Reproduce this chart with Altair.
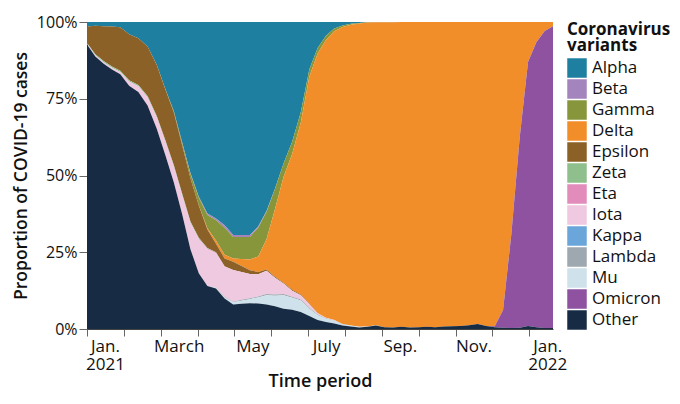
import json
import calendar

import altair as alt
import pandas as pd

# weekly reporting periods, Jan. 1 2021 through Jan. 21 2022
weeks = pd.date_range("2021-01-01", periods=56, freq="7D")

variants = ["Alpha", "Beta", "Gamma", "Delta", "Epsilon", "Zeta", "Eta",
            "Iota", "Kappa", "Lambda", "Mu", "Omicron", "Other"]
colors = ["#1f7fa0", "#a484bc", "#87963b", "#f28e2a", "#8c6127", "#8fbf8c",
          "#e28cbb", "#eec9e0", "#6aa6da", "#9ea8b0", "#cfe1eb", "#8e52a0",
          "#172c44"]

# share of sequenced cases per week (%)
alpha = [1.5, 1.2, 1.4, 1.5, 1.7, 4.0, 5.3, 8.0, 13.9, 21.9,
         29.0, 39.2, 49.2, 56.9, 62.4, 64.0, 66.2, 69.4, 69.4, 69.4,
         66.6, 61.6, 54.3, 46.1, 39.0, 29.5, 15.5, 8.5, 4.5, 2.1,
         1.1, 0.6, 0.3, 0.1, 0.1, 0.1, 0.1, 0, 0, 0,
         0, 0, 0, 0, 0, 0, 0, 0, 0, 0,
         0, 0, 0, 0, 0, 0]
beta = [0, 0, 0, 0, 0, 0, 0, 0, 0, 0,
        0, 0.1, 0.2, 0.3, 0.5, 0.6, 0.8, 0.6, 0.6, 0.6,
        0.4, 0.2, 0.1, 0, 0, 0, 0, 0, 0, 0,
        0, 0, 0, 0, 0, 0, 0, 0, 0, 0,
        0, 0, 0, 0, 0, 0, 0, 0, 0, 0,
        0, 0, 0, 0, 0, 0]
gamma = [0, 0, 0, 0, 0, 0, 0, 0, 0.1, 0.2,
         0.4, 0.8, 1.5, 2.5, 4.3, 6.6, 8.8, 7.0, 7.2, 7.4,
         9.4, 9.0, 6.6, 4.4, 4.0, 3.3, 2.3, 1.8, 1.4, 0.9,
         0.5, 0.3, 0.2, 0.1, 0, 0, 0, 0, 0, 0,
         0, 0, 0, 0, 0, 0, 0, 0, 0, 0,
         0, 0, 0, 0, 0, 0]
delta = [0, 0, 0, 0, 0, 0, 0, 0, 0, 0,
         0, 0, 0, 0.1, 0.4, 1.0, 1.2, 1.1, 2.3, 3.5,
         5.0, 9.8, 22.0, 34.4, 44.2, 56.0, 74.0, 84.6, 90.4, 94.1,
         96.8, 98.0, 98.8, 99.0, 98.7, 99.3, 99.4, 99.3, 99.5, 99.4,
         99.3, 99.4, 99.2, 99.1, 99.0, 98.8, 98.4, 99.0, 99.1, 93.8,
         69.0, 37.6, 13.0, 6.6, 2.9, 1.4]
epsilon = [5.3, 9.3, 11.3, 13.0, 14.2, 15.0, 15.2, 16.1, 16.6, 16.5,
           17.2, 15.8, 14.1, 10.5, 6.0, 2.8, 2.6, 2.7, 1.9, 1.2,
           0.8, 0.4, 0.3, 0.3, 0.3, 0.2, 0.1, 0, 0, 0,
           0, 0, 0, 0, 0, 0, 0, 0, 0, 0,
           0, 0, 0, 0, 0, 0, 0, 0, 0, 0,
           0, 0, 0, 0, 0, 0]
zeta = [0.2, 0.3, 0.4, 0.4, 0.4, 0.4, 0.4, 0.4, 0.4, 0.4,
        0.4, 0.4, 0.3, 0.3, 0.2, 0.1, 0, 0, 0, 0,
        0, 0, 0, 0, 0, 0, 0, 0, 0, 0,
        0, 0, 0, 0, 0, 0, 0, 0, 0, 0,
        0, 0, 0, 0, 0, 0, 0, 0, 0, 0,
        0, 0, 0, 0, 0, 0]
eta = [0, 0, 0, 0, 0, 0, 0, 0.1, 0.2, 0.2,
       0.2, 0.2, 0.2, 0.2, 0.2, 0.2, 0.1, 0, 0, 0,
       0, 0, 0, 0, 0, 0, 0, 0, 0, 0,
       0, 0, 0, 0, 0, 0, 0, 0, 0, 0,
       0, 0, 0, 0, 0, 0, 0, 0, 0, 0,
       0, 0, 0, 0, 0, 0]
iota = [0.3, 0.4, 0.5, 0.6, 0.7, 1.4, 1.9, 2.6, 3.6, 4.3,
        5.0, 6.0, 8.5, 11.0, 12.0, 11.2, 9.8, 10.3, 9.1, 7.9,
        7.2, 7.6, 5.5, 3.4, 2.0, 1.4, 1.2, 0.4, 0.2, 0.1,
        0, 0, 0, 0, 0, 0, 0, 0, 0, 0,
        0, 0, 0, 0, 0, 0, 0, 0, 0, 0,
        0, 0, 0, 0, 0, 0]
kappa = [0] * 56
lambda_ = [0, 0, 0, 0, 0, 0, 0, 0, 0, 0,
           0, 0, 0, 0, 0, 0.1, 0.2, 0.2, 0.3, 0.3,
           0.3, 0.4, 0.4, 0.4, 0.3, 0.3, 0.3, 0.2, 0.2, 0.1,
           0.1, 0, 0, 0, 0, 0, 0, 0, 0, 0,
           0, 0, 0, 0, 0, 0, 0, 0, 0, 0,
           0, 0, 0, 0, 0, 0]
mu = [0, 0, 0, 0, 0, 0, 0, 0, 0, 0,
      0, 0, 0, 0, 0, 0.2, 0.4, 0.7, 1.0, 1.3,
      2.0, 3.0, 3.4, 4.4, 3.9, 3.8, 2.4, 1.6, 1.0, 0.9,
      0.4, 0.3, 0.2, 0.1, 0.1, 0, 0, 0, 0, 0,
      0, 0, 0, 0, 0, 0, 0, 0, 0, 0,
      0, 0, 0, 0, 0, 0]
omicron = [0, 0, 0, 0, 0, 0, 0, 0, 0, 0,
           0, 0, 0, 0, 0, 0, 0, 0, 0, 0,
           0, 0, 0, 0, 0, 0, 0, 0, 0, 0,
           0, 0, 0, 0, 0, 0, 0, 0, 0, 0,
           0, 0, 0, 0, 0, 0, 0, 0, 0.3, 5.8,
           30.7, 62.0, 86.0, 92.8, 96.8, 98.3]
other = [92.7, 88.8, 86.4, 84.5, 83.0, 79.2, 77.2, 72.8, 65.2, 56.5,
         47.8, 37.5, 26.0, 18.2, 14.0, 13.2, 9.9, 8.0, 8.2, 8.4,
         8.3, 8.0, 7.4, 6.6, 6.3, 5.5, 4.2, 2.9, 2.3, 1.8,
         1.1, 0.8, 0.5, 0.7, 1.1, 0.6, 0.5, 0.7, 0.5, 0.6,
         0.7, 0.6, 0.8, 0.9, 1.0, 1.2, 1.6, 1.0, 0.6, 0.4,
         0.3, 0.4, 1.0, 0.6, 0.3, 0.3]

series = [alpha, beta, gamma, delta, epsilon, zeta, eta, iota, kappa,
          lambda_, mu, omicron, other]

# x labels sit between the monthly ticks, every second month
tick_months = [0, 2, 4, 6, 8, 10, 12]
tick_labels = [["Jan.", "2021"], "March", "May", "July", "Sep.", "Nov.",
               ["Jan.", "2022"]]


def month_pos(d):
    # months are drawn with equal width, so place each week inside its month
    days = calendar.monthrange(d.year, d.month)[1]
    return (d.year - 2021) * 12 + d.month - 1 + (d.day - 1) / days


rows = []
for i, (name, vals) in enumerate(zip(variants, series)):
    for w, v in zip(weeks, vals):
        rows.append({"t": month_pos(w), "variant": name, "share": v,
                     "rank": len(variants) - 1 - i})
df = pd.DataFrame(rows)
t_end = month_pos(weeks[-1])

label_expr = " : ".join(
    f"datum.value == {m} ? {json.dumps(l)}" for m, l in zip(tick_months, tick_labels)
) + " : ''"

chart = alt.Chart(df).mark_area(interpolate="linear").encode(
    x=alt.X("t:Q",
            scale=alt.Scale(domain=[0, t_end], nice=False, zero=False),
            axis=alt.Axis(values=list(range(13)), labelExpr=label_expr,
                          labelOffset=18, labelFlush=False, labelOverlap=False,
                          labelFontSize=17, labelLineHeight=18, labelPadding=2,
                          tickSize=7, tickColor="#666", domainColor="#444",
                          labelColor="#111", grid=False,
                          titleFontSize=18, titleFontWeight=600,
                          titleColor="#111", titlePadding=0),
            title="Time period"),
    y=alt.Y("share:Q", stack="normalize",
            scale=alt.Scale(domain=[0, 1]),
            axis=alt.Axis(values=[0, 0.25, 0.5, 0.75, 1], format=".0%",
                          labelFontSize=16, labelPadding=2, tickSize=8,
                          tickColor="#666", domainColor="#444",
                          labelColor="#111", grid=False,
                          titleFontSize=17.5, titleFontWeight=600,
                          titleColor="#111", titlePadding=6),
            title="Proportion of COVID-19 cases"),
    color=alt.Color("variant:N",
                    scale=alt.Scale(domain=variants, range=colors),
                    legend=alt.Legend(title=["Coronavirus", "variants"],
                                      orient="none", legendX=480, legendY=0,
                                      titleFontSize=17, titleFontWeight="bold",
                                      titleLineHeight=16, titlePadding=3,
                                      titleColor="#111",
                                      labelFontSize=17, labelColor="#111",
                                      labelOffset=5, symbolType="square",
                                      symbolSize=380, symbolStrokeWidth=0,
                                      symbolOpacity=1, rowPadding=1,
                                      padding=0)),
    order=alt.Order("rank:Q"),
).properties(
    width=466, height=307,
    autosize=alt.AutoSizeParams(type="none"),
    padding={"left": 79, "top": 14, "right": 119, "bottom": 67},
).configure(font="Open Sans").configure_view(strokeWidth=0)

chart.save("out.html", embed_options={"renderer": "svg", "actions": False})
